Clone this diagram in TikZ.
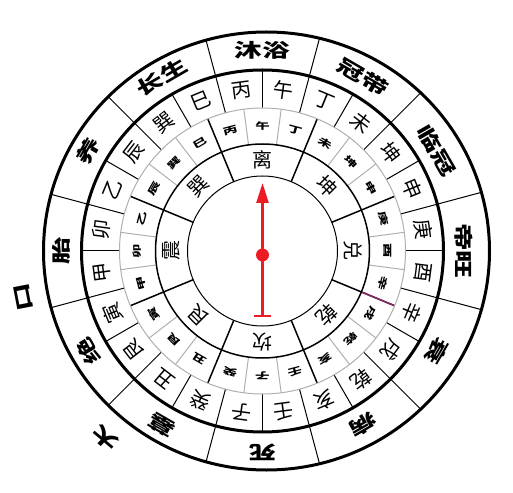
\documentclass[tikz,border=0pt]{standalone}
\usepackage{fontspec}
\newfontfamily\cjk{Noto Sans CJK SC}
\usetikzlibrary{arrows.meta}
\definecolor{needle}{RGB}{237,28,36}
\definecolor{ringgray}{RGB}{175,175,175}
\definecolor{seam}{RGB}{140,40,100}
\tikzset{
  stage/.style={font=\cjk\bfseries\fontsize{19}{19}\selectfont, inner sep=0pt},
  mountain/.style={font=\cjk\fontsize{20}{20}\selectfont, inner sep=0pt},
  minor/.style={font=\cjk\bfseries\fontsize{9}{9}\selectfont, inner sep=0pt},
  gua/.style={font=\cjk\fontsize{20}{20}\selectfont, inner sep=0pt}
}
\begin{document}
\begin{tikzpicture}[x=1pt,y=1pt]
\useasboundingbox (-262.5,-241) rectangle (250.5,251);

% dividers
\begin{scope}
\clip (4,0) ellipse [x radius=223, y radius=219];
\foreach \a in {15,45,...,345} \draw[line width=1pt] (\a:181) -- (\a:230);
\end{scope}
\foreach \a in {0,15,...,345} \draw[line width=1pt] (\a:143) -- (\a:181);
\foreach \b in {0,45,...,315} {
  \draw[ringgray, line width=1pt] ({\b+7.5}:107) -- ({\b+7.5}:143);
  \draw[ringgray, line width=1pt] ({\b+37.5}:107) -- ({\b+37.5}:143);
  \draw[line width=1.5pt] ({\b+22.5}:75) -- ({\b+22.5}:143);
}
\draw[seam, line width=1.5pt] (337.5:107) -- (337.5:143);

% rings
\draw[line width=3pt] (4,0) ellipse [x radius=223, y radius=219];
\draw[line width=3pt] (0,0) circle [radius=181];
\draw[ringgray, line width=1pt] (0,0) circle [radius=143];
\draw[line width=1.5pt] (0,0) circle [radius=107];
\draw[line width=1pt] (0,0) circle [radius=75];

% twelve stages
\foreach \t/\a [count=\i] in {沐浴/90, 冠带/60, 临冠/30, 帝旺/0, 衰/-30, 病/-60,
  死/-90, 墓/-120, 绝/-150, 胎/180, 养/150, 长生/120}
  \node[stage, rotate=\a-90, xscale=1.45] (st\i) at (\a:201) {\t};
\node[stage, rotate=101, xscale=1.45] (mark1) at (191:243) {口};
\node[stage, rotate=140, xscale=1.45] (mark2) at (230:244) {大};

% 24 mountains
\foreach \t [count=\i from 0] in {丙,午,丁,未,坤,申,庚,酉,辛,戌,乾,亥,
  壬,子,癸,丑,艮,寅,甲,卯,乙,辰,巽,巳} {
  \pgfmathsetmacro\am{97.5-15*\i}
  \pgfmathsetmacro\an{105-15*\i}
  \node[mountain, rotate=\am-90] (mt\i) at (\am:162) {\t};
  \node[minor, rotate=\an-90, xscale=1.6] (mn\i) at (\an:125) {\t};
}

% trigrams
\foreach \t/\a [count=\i] in {离/90, 坤/45, 兑/0, 乾/-45, 坎/-90, 艮/-135, 震/180, 巽/135}
  \node[gua, rotate=\a-90] (gu\i) at (\a:91) {\t};

% needle
\coordinate (tail) at (0,-66);
\coordinate (tip) at (0,68);
\draw[needle, line width=2.5pt, {Bar[width=17pt]}-{Triangle[width=12pt,length=20pt]}] (tail) -- (tip);
\fill[needle] (0,-4) circle [radius=6.5];

\end{tikzpicture}
\end{document}
